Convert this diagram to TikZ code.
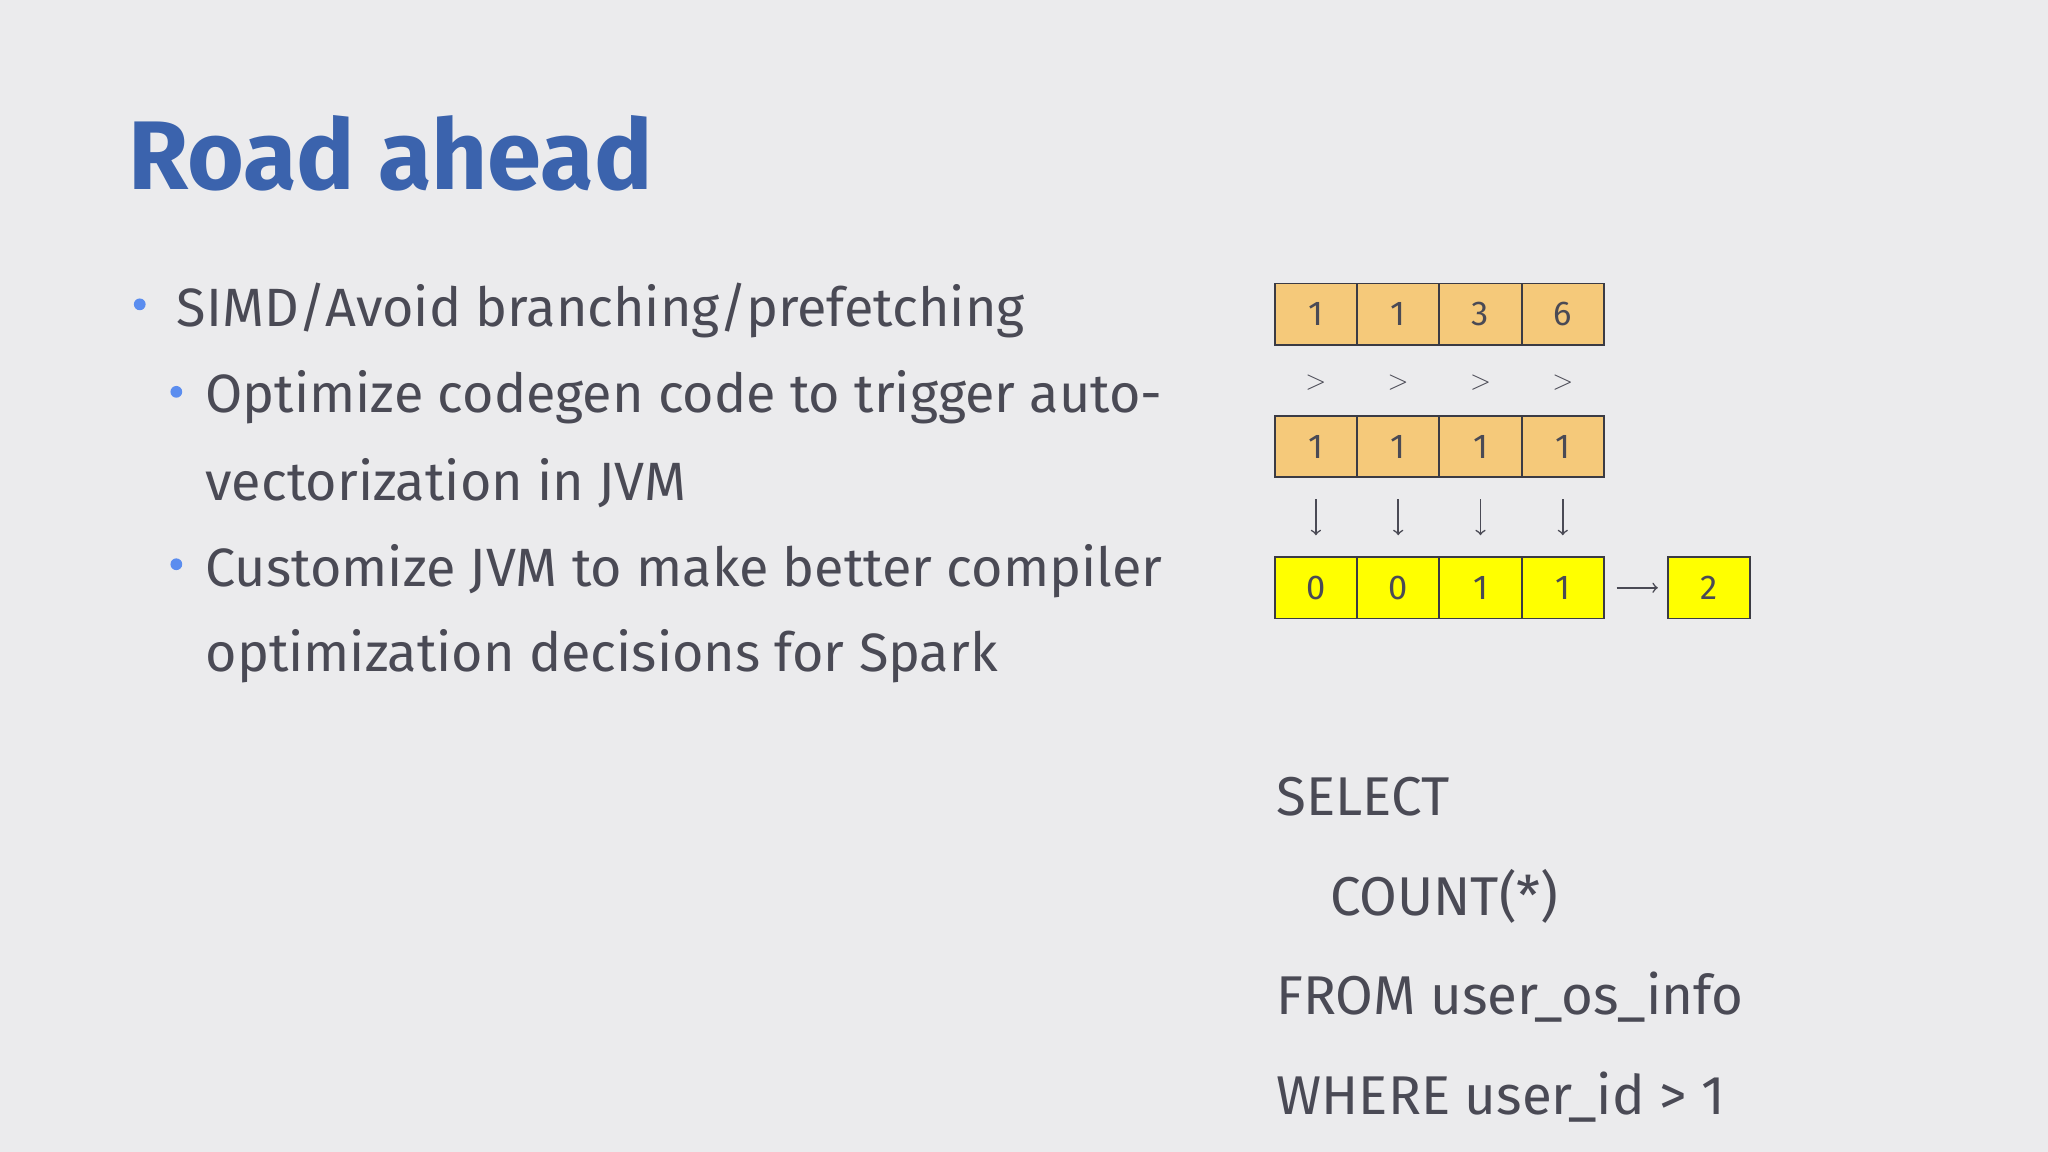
\documentclass[tikz,border=0pt]{standalone}
\usepackage{fontspec}
\setmainfont{Fira Sans}
\usetikzlibrary{positioning}
\definecolor{slidebg}{HTML}{EBEBED}
\definecolor{titleblue}{HTML}{3B63AD}
\definecolor{bodygray}{HTML}{4A4A55}
\definecolor{cellorange}{HTML}{F5C97A}
\definecolor{cellyellow}{HTML}{FFFF00}
\definecolor{bulletblue}{HTML}{5B8DEF}
\begin{document}
\begin{tikzpicture}[x=0.02cm,y=-0.02cm]
  % Styles for the slide
  \tikzset{
    cell/.style={draw=bodygray!80!black, line width=0.8pt, minimum width=63*0.02cm,
      minimum height=47*0.02cm, inner sep=0pt, font=\fontsize{15}{15}\selectfont, text=bodygray},
    hot cell/.style={cell, fill=cellyellow},
    warm cell/.style={cell, fill=cellorange},
    body text/.style={anchor=base west, inner sep=0pt, text=bodygray, font=\fontsize{23.5}{23.5}\selectfont},
    sql text/.style={anchor=base west, inner sep=0pt, text=bodygray, font=\fontsize{23.8}{23.8}\selectfont},
    bullet/.style={circle, fill=bulletblue, inner sep=0pt, minimum size=9*0.02cm},
    flow/.style={->, bodygray, line width=0.7pt}
  }
  \fill[slidebg] (0,0) rectangle (1568,882);

  % Title
  \node[anchor=base west, inner sep=0pt, text=titleblue, font=\fontsize{42.5}{42.5}\bfseries\selectfont]
    (title) at (98,145) {Road ahead};

  % Bullets
  \node[bullet] (b1) at (107,233) {};
  \node[body text] (t1) at (135,250) {SIMD/Avoid branching/prefetching};
  \node[bullet] (b2) at (135,300) {};
  \node[body text] (t2) at (157,316) {Optimize codegen code to trigger auto-};
  \node[body text] (t2b) at (157,383) {vectorization in JVM};
  \node[bullet] (b3) at (135,432) {};
  \node[body text] (t3) at (157,449) {Customize JVM to make better compiler};
  \node[body text] (t3b) at (157,514) {optimization decisions for Spark};

  % Vector rows
  \foreach \v [count=\i] in {1,1,3,6}
    \node[warm cell] (a\i) at (976+63*\i-31.5,240.5) {\v};
  \foreach \v [count=\i] in {1,1,1,1}
    \node[warm cell] (m\i) at (976+63*\i-31.5,342) {\v};
  \foreach \v [count=\i] in {0,0,1,1}
    \node[hot cell] (r\i) at (976+63*\i-31.5,450) {\v};
  \node[hot cell] (sum) at (1308.5,450) {2};

  % Comparisons and arrows
  \foreach \i in {1,...,4} {
    \node[text=bodygray, font=\fontsize{13}{13}\selectfont] (gt\i) at (976+63*\i-31.5,293) {$>$};
    \draw[flow, shorten <=16*0.02cm, shorten >=16*0.02cm] (m\i.south) -- (r\i.north);
  }
  \draw[flow, shorten <=9*0.02cm, shorten >=7*0.02cm] (r4.east) -- (sum.west);

  % Query
  \node[sql text] (q1) at (977,624) {SELECT};
  \node[sql text] (q2) at (1018,701) {COUNT(*)};
  \node[sql text] (q3) at (977,777) {FROM user\_os\_info};
  \node[sql text] (q4) at (977,853) {WHERE user\_id > 1};
\end{tikzpicture}
\end{document}
